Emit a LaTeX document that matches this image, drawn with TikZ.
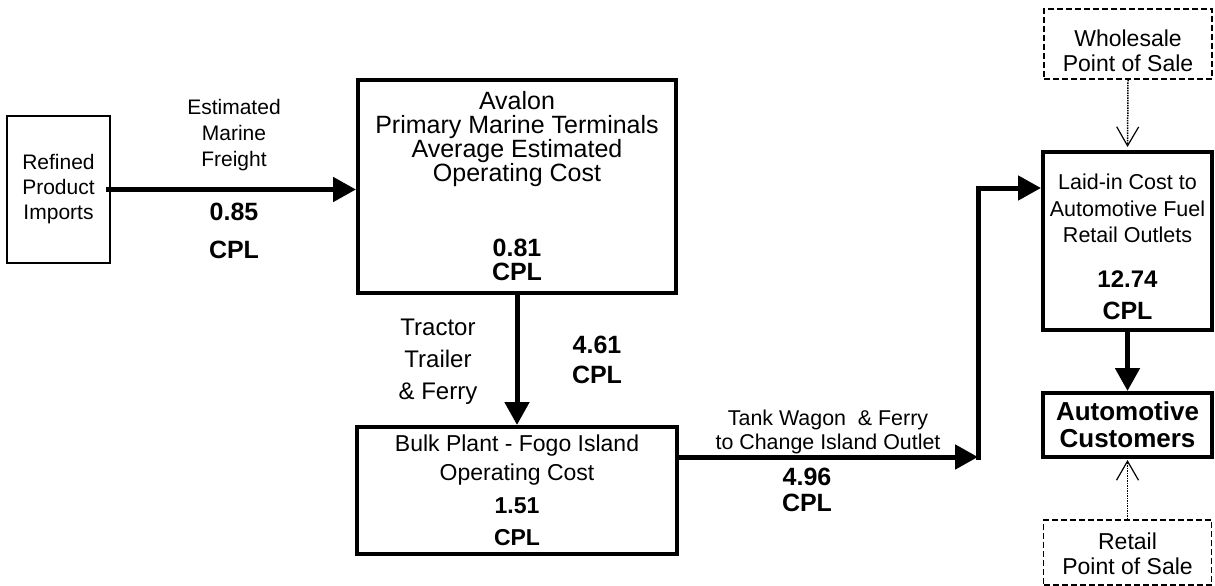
\documentclass[tikz,border=0pt]{standalone}
\usepackage{fontspec}
\setmainfont{Liberation Sans}
\usetikzlibrary{arrows.meta,positioning}
\newcommand{\fsz}[2]{\fontsize{#1}{#2}\selectfont}

\begin{document}
\begin{tikzpicture}[x=1pt, y=-1pt,
  box/.style={draw, line width=4pt, align=center, inner sep=0pt},
  thinbox/.style={draw, line width=1.6pt, align=center, inner sep=0pt},
  salebox/.style={draw, line width=1.6pt, dash pattern=on 6pt off 3pt, align=center, inner sep=0pt,
    minimum width=168pt, minimum height=70pt, font=\fsz{23}{25}},
  arr/.style={-{Triangle[length=23pt,width=24pt]}, line width=5pt},
  dotarr/.style={-{Straight Barb[length=19pt,width=22pt,line width=1.2pt]}, line width=1.5pt, densely dotted},
  lbl/.style={align=center, inner sep=0pt},
  num/.style={lbl, font=\bfseries\fsz{25}{30}}]
\useasboundingbox (0,0) rectangle (1215,586);

% boxes
\node[thinbox, minimum width=103pt, minimum height=147pt, font=\fsz{21}{25}] (imports) at (58.5,189.5)
  {Refined\\Product\\Imports};
\node[box, minimum width=318pt, minimum height=213pt, font=\fsz{25}{24}] (avalon) at (517,186.5)
  {Avalon\\Primary Marine Terminals\\Average Estimated\\Operating Cost\\[51pt]\textbf{0.81}\\\textbf{CPL}};
\node[box, minimum width=320pt, minimum height=127pt, font=\fsz{23}{29}] (bulk) at (517,490.5)
  {Bulk Plant - Fogo Island\\Operating Cost\\[4pt]\textbf{1.51}\\[3pt]\textbf{CPL}};
\node[box, minimum width=169pt, minimum height=178pt, font=\fsz{21.5}{26.5}] (laidin) at (1127.5,241)
  {\rule{0pt}{27.5pt}Laid-in Cost to\\Automotive Fuel\\Retail Outlets\\[18.5pt]\textbf{\fsz{24}{26}12.74}\\[5.5pt]\textbf{\fsz{25}{26}CPL}};
\node[box, minimum width=169pt, minimum height=64pt, font=\bfseries\fsz{26}{27}] (cust) at (1127.5,425)
  {Automotive\\Customers};
\node[salebox] (whole) at (1128,44) {\rule{0pt}{30.5pt}Wholesale\\Point of Sale};
\node[salebox, minimum height=65pt] (retail) at (1127.5,552.5) {\rule{0pt}{20pt}Retail\\Point of Sale};

% connector labels
\node[lbl, font=\fsz{21}{26}] (freight) at (234,135) {Estimated\\Marine\\Freight};
\node[num, font=\bfseries\fsz{25}{38}] (freightcost) at (234,231) {0.85\\CPL};
\node[lbl, font=\fsz{24}{32}] (tractor) at (438,362) {Tractor\\Trailer\\\& Ferry};
\node[num] (tractorcost) at (597,360) {4.61\\CPL};
\node[lbl, font=\fsz{21.4}{24}] (wagon) at (828,432) {Tank Wagon \ \& Ferry\\to Change Island Outlet};
\node[num, font=\bfseries\fsz{25}{26}] (wagoncost) at (807,490) {4.96\\CPL};

% connectors
\coordinate (turn) at (978,457);
\coordinate (rise) at (978,188);
\draw[arr] ([xshift=-5pt]imports.east) -- (avalon.west |- imports.east);
\draw[arr] (avalon.south) -- (bulk.north);
\draw[arr] (bulk.east |- turn) -- (turn);
\draw[arr] ([yshift=-2.5pt]turn) -- (rise) -- (laidin.west |- rise);
\draw[arr] (laidin.south) -- (cust.north);
\draw[dotarr, shorten >=3pt] (whole.south) -- (laidin.north);
\draw[dotarr, shorten >=1pt] (retail.north) -- (cust.south);
\end{tikzpicture}
\end{document}
